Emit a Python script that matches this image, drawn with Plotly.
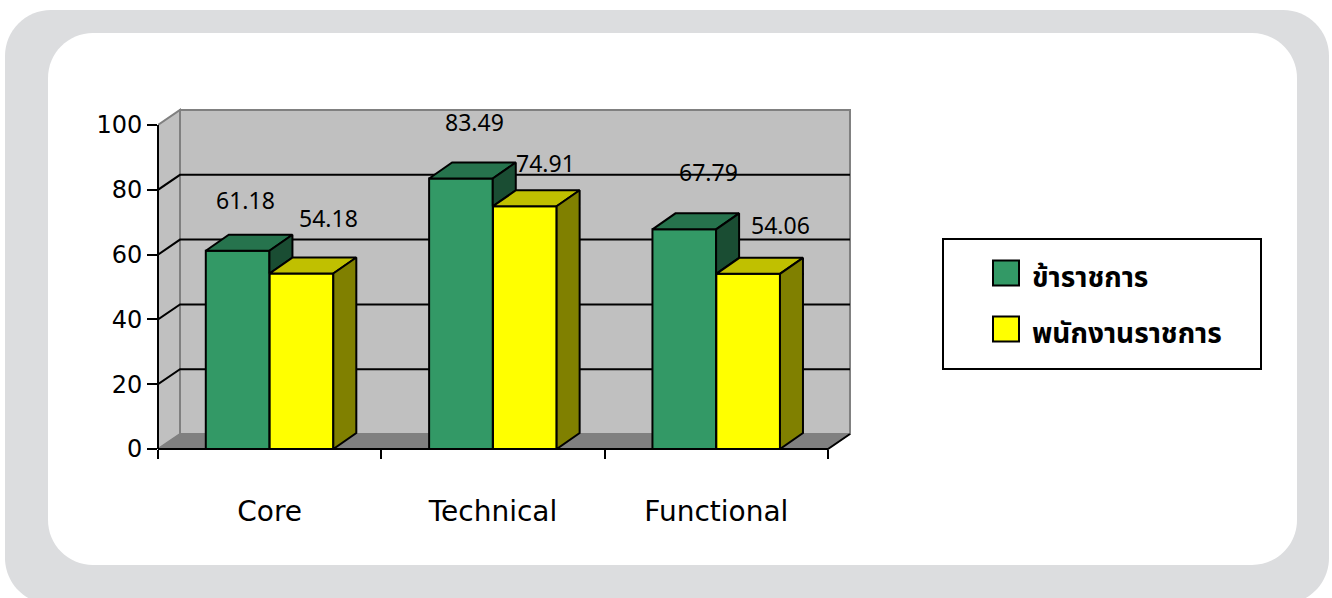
import plotly.graph_objects as go

# ---- data -------------------------------------------------------------
categories = ["Core", "Technical", "Functional"]
series_names = ["ข้าราชการ", "พนักงานราชการ"]
officials = [61.18, 83.49, 67.79]
gov_employees = [54.18, 74.91, 54.06]
y_ticks = [0, 20, 40, 60, 80, 100]

# ---- styling ----------------------------------------------------------
FRONT = ["#339966", "#FFFF00"]
TOP = ["#26734D", "#C0C000"]
SIDE = ["#1A4D33", "#808000"]
WALL = "#C0C0C0"
FLOOR = "#808080"
EDGE = "#808080"
LABEL_FONT = "Noto Sans, DejaVu Sans, sans-serif"
TICK_FONT = "DejaVu Sans, Verdana, sans-serif"
THAI_FONT = "Noto Sans Thai, Tahoma, Loma, sans-serif"

W, H = 1332, 598
ML, MR, MT, MB = 158, 480, 108, 149
PLOT_W = W - ML - MR
PLOT_H = H - MT - MB

PX_X = 223.33          # pixels per category unit
PX_Y = 3.24            # pixels per value unit
X0, Y0 = -0.5, 0.0
X1 = X0 + PLOT_W / PX_X
Y1 = Y0 + PLOT_H / PX_Y
X_END = 2.5            # right edge of the floor front

WALL_DX, WALL_DY = 22 / PX_X, 15 / PX_Y
BAR_DX, BAR_DY = 23 / PX_X, 16 / PX_Y
BAR_W = 0.285
OFFSETS = [-0.286, 0.0]

# label nudges (px) relative to the top-centre of each bar front
label_shift = [
    [(8, 51), (14, 56), (24, 57)],
    [(27, 55), (21, 43), (32, 49)],
]


def px_x(px):
    return (px - ML) / PLOT_W


def px_y(py):
    return (H - MB - py) / PLOT_H


def rounded_rect(x0, y0, x1, y1, r):
    k = 0.5523 * r
    pts = [
        ("M", [(x0 + r, y0)]),
        ("L", [(x1 - r, y0)]),
        ("C", [(x1 - r + k, y0), (x1, y0 + r - k), (x1, y0 + r)]),
        ("L", [(x1, y1 - r)]),
        ("C", [(x1, y1 - r + k), (x1 - r + k, y1), (x1 - r, y1)]),
        ("L", [(x0 + r, y1)]),
        ("C", [(x0 + r - k, y1), (x0, y1 - r + k), (x0, y1 - r)]),
        ("L", [(x0, y0 + r)]),
        ("C", [(x0, y0 + r - k), (x0 + r - k, y0), (x0 + r, y0)]),
    ]
    out = []
    for cmd, ps in pts:
        out.append(cmd + " ".join(f"{px_x(a):.5f},{px_y(b):.5f}" for a, b in ps))
    return " ".join(out) + " Z"


def poly_path(points):
    return "M" + " L".join(f"{x:.5f},{y:.5f}" for x, y in points) + " Z"


fig = go.Figure()
values = [officials, gov_employees]
idx = list(range(len(categories)))

# front faces of the columns
for s, vals in enumerate(values):
    fig.add_trace(go.Bar(
        x=idx, y=vals, width=BAR_W, offset=OFFSETS[s], name=series_names[s],
        marker=dict(color=FRONT[s], line=dict(color="black", width=2)),
        showlegend=False, hoverinfo="skip",
    ))

# top and side faces giving the columns depth
for i in idx:
    for s, vals in enumerate(values):
        v = vals[i]
        xl = i + OFFSETS[s]
        xr = xl + BAR_W
        top = [(xl, v), (xr, v), (xr + BAR_DX, v + BAR_DY), (xl + BAR_DX, v + BAR_DY), (xl, v)]
        base = 0.0
        if s + 1 < len(values):
            base = min(v, values[s + 1][i])
        side = [(xr, base), (xr, v), (xr + BAR_DX, v + BAR_DY), (xr + BAR_DX, base + BAR_DY), (xr, base)]
        for pts, col in ((top, TOP[s]), (side, SIDE[s])):
            fig.add_trace(go.Scatter(
                x=[p[0] for p in pts], y=[p[1] for p in pts], mode="lines",
                fill="toself", fillcolor=col, line=dict(color="black", width=2),
                showlegend=False, hoverinfo="skip",
            ))

shapes = []
# outer grey frame and white card
shapes.append(dict(type="path", xref="paper", yref="paper", layer="below",
                   path=rounded_rect(5, 10, 1329, 604, 46),
                   fillcolor="#DCDDDF", line=dict(width=0)))
shapes.append(dict(type="path", xref="paper", yref="paper", layer="below",
                   path=rounded_rect(48, 33, 1297, 565, 45),
                   fillcolor="white", line=dict(width=0)))

top_v = y_ticks[-1]
# side wall, back wall and floor
shapes.append(dict(type="path", xref="x", yref="y", layer="below",
                   path=poly_path([(X0, 0), (X0, top_v), (X0 + WALL_DX, top_v + WALL_DY), (X0 + WALL_DX, WALL_DY)]),
                   fillcolor=WALL, line=dict(color=EDGE, width=2)))
shapes.append(dict(type="path", xref="x", yref="y", layer="below",
                   path=poly_path([(X0 + WALL_DX, WALL_DY), (X0 + WALL_DX, top_v + WALL_DY),
                                   (X_END + WALL_DX, top_v + WALL_DY), (X_END + WALL_DX, WALL_DY)]),
                   fillcolor=WALL, line=dict(color=EDGE, width=2)))
shapes.append(dict(type="path", xref="x", yref="y", layer="below",
                   path=poly_path([(X0, 0), (X_END, 0), (X_END + WALL_DX, WALL_DY), (X0 + WALL_DX, WALL_DY)]),
                   fillcolor=FLOOR, line=dict(color=EDGE, width=1)))
# grid lines on side and back walls
for t in y_ticks[1:-1]:
    shapes.append(dict(type="path", xref="x", yref="y", layer="below",
                       path=f"M{X0},{t} L{X0 + WALL_DX},{t + WALL_DY} L{X_END + WALL_DX},{t + WALL_DY}",
                       line=dict(color="black", width=2)))
# axis lines (value axis and floor front edge)
shapes.append(dict(type="line", xref="paper", yref="paper", layer="above",
                   x0=0, x1=0, y0=0, y1=(top_v - Y0) / (Y1 - Y0),
                   line=dict(color="black", width=2)))
shapes.append(dict(type="path", xref="paper", yref="paper", layer="above",
                   path=(f"M0,0 L{(X_END - X0) / (X1 - X0):.5f},0 "
                         f"L{(X_END + WALL_DX - X0) / (X1 - X0):.5f},{WALL_DY / (Y1 - Y0):.5f}"),
                   line=dict(color="black", width=2)))

# legend box
LEG_X0, LEG_Y0, LEG_X1, LEG_Y1 = 943, 239, 1261, 369
shapes.append(dict(type="rect", xref="paper", yref="paper", layer="above",
                   x0=px_x(LEG_X0), x1=px_x(LEG_X1), y0=px_y(LEG_Y1), y1=px_y(LEG_Y0),
                   fillcolor="white", line=dict(color="black", width=2)))
legend_rows = [273, 329]
annotations = []
for s, cy in enumerate(legend_rows):
    shapes.append(dict(type="rect", xref="paper", yref="paper", layer="above",
                       x0=px_x(993), x1=px_x(1019), y0=px_y(cy + 12.5), y1=px_y(cy - 12.5),
                       fillcolor=FRONT[s], line=dict(color="black", width=2)))
    annotations.append(dict(xref="paper", yref="paper", x=px_x(1030), y=px_y(cy + 5),
                            xanchor="left", yanchor="middle", showarrow=False,
                            text=f"<b>{series_names[s]}</b>",
                            font=dict(family=THAI_FONT, size=28, color="black")))

# value labels
for s, vals in enumerate(values):
    for i, v in enumerate(vals):
        dxp, dyp = label_shift[s][i]
        annotations.append(dict(x=i + OFFSETS[s] + BAR_W / 2, y=v, xref="x", yref="y",
                                text=f"{v:.2f}", showarrow=False, xshift=dxp, yshift=dyp,
                                xanchor="center", yanchor="middle",
                                font=dict(family=LABEL_FONT, size=23, color="black")))

fig.update_layout(
    width=W, height=H,
    margin=dict(l=ML, r=MR, t=MT, b=MB, pad=0),
    paper_bgcolor="white", plot_bgcolor="rgba(0,0,0,0)",
    barmode="overlay", showlegend=False,
    shapes=shapes, annotations=annotations,
    xaxis=dict(range=[X0, X1], showgrid=False, zeroline=False, showline=False,
               tickvals=idx, ticktext=categories, ticks="",
               minor=dict(tickvals=[-0.5, 0.5, 1.5, 2.5], ticks="outside",
                          ticklen=9, tickwidth=2, tickcolor="black"),
               ticklabelstandoff=43,
               tickfont=dict(family=TICK_FONT, size=28, color="black")),
    yaxis=dict(range=[Y0, Y1], showgrid=False, zeroline=False, showline=False,
               tickvals=y_ticks, ticks="outside", ticklen=10, tickwidth=2,
               tickcolor="black",
               tickfont=dict(family=TICK_FONT, size=24, color="black")),
)

fig.write_html("out.html")
